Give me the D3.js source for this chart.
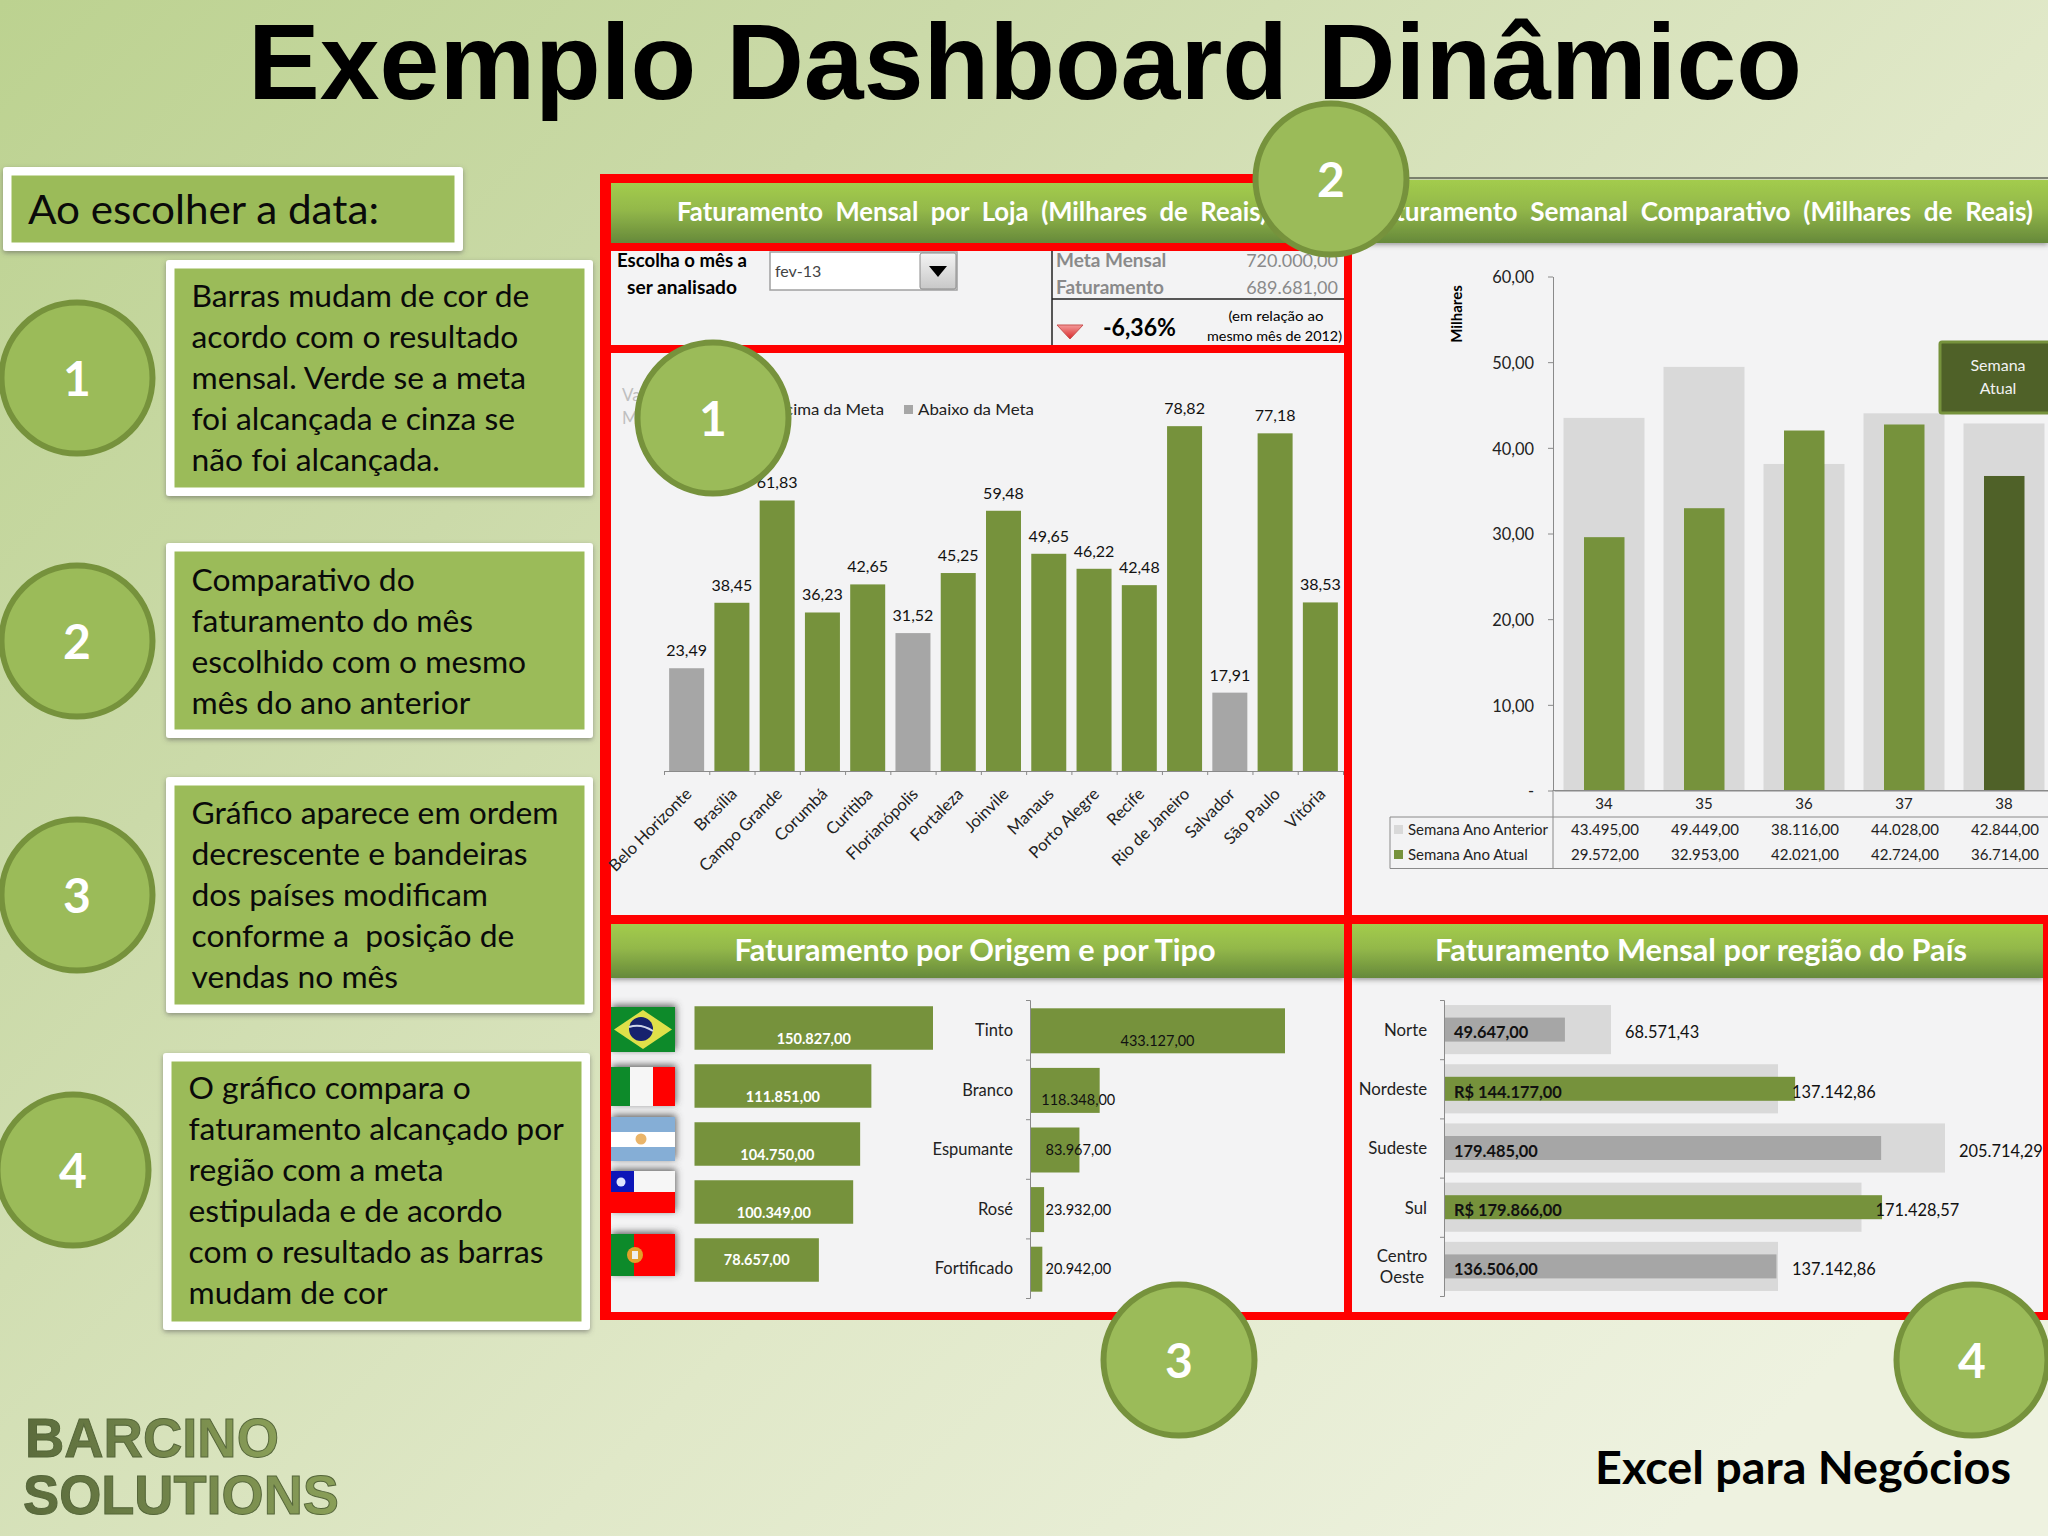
<!DOCTYPE html>
<html>
<head>
<meta charset="utf-8">
<style>
  html, body { margin: 0; padding: 0; background: #d8e2bd; }
  svg { display: block; }
  text { font-family: Lato, "Open Sans", sans-serif; }
  .axis path, .axis line { stroke: #8a8a8a; }
  .axis text { font-family: Lato, sans-serif; fill: #222; }
</style>
<script src="https://cdn.jsdelivr.net/npm/d3@7"></script>
</head>
<body>
<svg id="page" width="2048" height="1536"></svg>
<script>
// monthly sales per store
const stores = ["Belo Horizonte", "Brasília", "Campo Grande", "Corumbá", "Curitiba", "Florianópolis", "Fortaleza", "Joinvile", "Manaus", "Porto Alegre", "Recife", "Rio de Janeiro", "Salvador", "São Paulo", "Vitória"];
const storeValues = [23.49, 38.45, 61.83, 36.23, 42.65, 31.52, 45.25, 59.48, 49.65, 46.22, 42.48, 78.82, 17.91, 77.18, 38.53];
const storesBelowGoal = ["Belo Horizonte", "Florianópolis", "Salvador"];

// weekly comparison
const weeks = ["34", "35", "36", "37", "38"];
const weekPrevious = [43495, 49449, 38116, 44028, 42844];
const weekCurrent = [29572, 32953, 42021, 42724, 36714];
const weekTicks = [0, 10000, 20000, 30000, 40000, 50000, 60000];

// origin and type
const origins = ["Brasil", "Itália", "Argentina", "Chile", "Portugal"];
const originValues = [150827, 111851, 104750, 100349, 78657];
const wineTypes = ["Tinto", "Branco", "Espumante", "Rosé", "Fortificado"];
const wineValues = [433127, 118348, 83967, 23932, 20942];

// region vs goal
const regions = ["Norte", "Nordeste", "Sudeste", "Sul", "Centro Oeste"];
const regionGoals = [68571.43, 137142.86, 205714.29, 171428.57, 137142.86];
const regionValues = [49647, 144177, 179485, 179866, 136506];

// side notes
const noteHead = "Ao escolher a data:";
const notes = [
  ["Barras mudam de cor de", "acordo com o resultado", "mensal. Verde se a meta", "foi alcançada e cinza se", "não foi alcançada."],
  ["Comparativo do", "faturamento do mês", "escolhido com o mesmo", "mês do ano anterior"],
  ["Gráfico aparece em ordem", "decrescente e bandeiras", "dos países modificam", "conforme a  posição de", "vendas no mês"],
  ["O gráfico compara o", "faturamento alcançado por", "região com a meta", "estipulada e de acordo", "com o resultado as barras", "mudam de cor"]
];

const GREEN = "#76923c", GREY = "#a6a6a6", LIGHT = "#d9d9d9", DARK = "#4f6128", LEAF = "#9bbb59", RED = "#ff0000";

const ptBR = d3.formatLocale({ decimal: ",", thousands: ".", grouping: [3], currency: ["R$ ", ""] });
const f2 = ptBR.format(",.2f");

const svg = d3.select("#page");
const defs = svg.append("defs");

const bgGrad = defs.append("linearGradient").attr("id", "bg").attr("x1", 0).attr("y1", 0).attr("x2", 1).attr("y2", 0.75);
bgGrad.append("stop").attr("offset", 0).attr("stop-color", "#bcd290");
bgGrad.append("stop").attr("offset", 0.3).attr("stop-color", "#cbdaa9");
bgGrad.append("stop").attr("offset", 0.65).attr("stop-color", "#e0e8c8");
bgGrad.append("stop").attr("offset", 1).attr("stop-color", "#eef2e0");

const headGrad = defs.append("linearGradient").attr("id", "head").attr("x1", 0).attr("y1", 0).attr("x2", 0).attr("y2", 1);
headGrad.append("stop").attr("offset", 0).attr("stop-color", "#a3cc4d");
headGrad.append("stop").attr("offset", 0.45).attr("stop-color", "#93b84a");
headGrad.append("stop").attr("offset", 1).attr("stop-color", "#66893a");

const logoGrad = defs.append("linearGradient").attr("id", "logo").attr("x1", 0).attr("y1", 0).attr("x2", 1).attr("y2", 0);
logoGrad.append("stop").attr("offset", 0).attr("stop-color", "#5b6b3c");
logoGrad.append("stop").attr("offset", 1).attr("stop-color", "#8a9f58");

const btnGrad = defs.append("linearGradient").attr("id", "btn").attr("x1", 0).attr("y1", 0).attr("x2", 0).attr("y2", 1);
btnGrad.append("stop").attr("offset", 0).attr("stop-color", "#f4f4f4");
btnGrad.append("stop").attr("offset", 1).attr("stop-color", "#c8c8c8");

const triGrad = defs.append("linearGradient").attr("id", "tri").attr("x1", 0).attr("y1", 0).attr("x2", 0).attr("y2", 1);
triGrad.append("stop").attr("offset", 0).attr("stop-color", "#f49a9a");
triGrad.append("stop").attr("offset", 1).attr("stop-color", "#d8282a");

const shadow = defs.append("filter").attr("id", "shadow").attr("x", "-10%").attr("y", "-10%").attr("width", "120%").attr("height", "125%");
shadow.append("feDropShadow").attr("dx", 0).attr("dy", 2).attr("stdDeviation", 2.5).attr("flood-color", "#555").attr("flood-opacity", 0.55);

const halo = defs.append("filter").attr("id", "halo").attr("x", "-20%").attr("y", "-40%").attr("width", "140%").attr("height", "180%");
halo.append("feDropShadow").attr("dx", 1).attr("dy", -2).attr("stdDeviation", 3.5).attr("flood-color", "#444").attr("flood-opacity", 0.85);

const soft = defs.append("filter").attr("id", "soft");
soft.append("feGaussianBlur").attr("stdDeviation", 0.7);

defs.append("clipPath").attr("id", "flagClip").append("rect").attr("x", 611).attr("y", 980).attr("width", 120).attr("height", 330);

// plain text helper
function put(g, txt, x, y, size, o = {}) {
  const t = g.append("text").attr("x", x).attr("y", y).attr("font-size", size)
    .attr("text-anchor", o.anchor || "start")
    .attr("font-weight", o.weight || 400)
    .attr("fill", o.fill || "#000")
    .text(txt);
  if (o.len) t.attr("textLength", o.len).attr("lengthAdjust", "spacingAndGlyphs");
  if (o.style) t.attr("style", o.style);
  return t;
}

// background and page texts
svg.append("rect").attr("width", 2048).attr("height", 1536).attr("fill", "url(#bg)");
put(svg, "Exemplo Dashboard Dinâmico", 248, 99, 108, { weight: 700, len: 1554, style: "font-family:'Liberation Sans',Arial,sans-serif" });
put(svg, "Excel para Negócios", 1595, 1484, 46, { weight: 700, len: 416 });
const logo = svg.append("g").attr("filter", "url(#soft)");
logo.append("text").attr("x", 25).attr("y", 1457).attr("font-size", 55).attr("font-weight", 700).attr("fill", "url(#logo)")
  .attr("stroke", "#55663a").attr("stroke-width", 1).attr("textLength", 254).attr("lengthAdjust", "spacingAndGlyphs")
  .style("font-family", "'Liberation Sans', Arial, sans-serif").text("BARCINO");
logo.append("text").attr("x", 23).attr("y", 1514).attr("font-size", 55).attr("font-weight", 700).attr("fill", "url(#logo)")
  .attr("stroke", "#55663a").attr("stroke-width", 1).attr("textLength", 316).attr("lengthAdjust", "spacingAndGlyphs")
  .style("font-family", "'Liberation Sans', Arial, sans-serif").text("SOLUTIONS");

// left column boxes
function noteBox(x, y, w, h) {
  svg.append("rect").attr("x", x).attr("y", y).attr("width", w).attr("height", h).attr("rx", 3).attr("fill", "#fff").attr("filter", "url(#shadow)");
  svg.append("rect").attr("x", x + 8.5).attr("y", y + 8.5).attr("width", w - 17).attr("height", h - 17).attr("fill", LEAF);
}
noteBox(3, 167, 460, 84);
put(svg, noteHead, 28, 224, 41, { fill: "#0a0a0a", len: 351 });

const noteBoxes = [[166, 260, 427, 236], [166, 543, 427, 195], [166, 777, 427, 236], [163, 1053, 427, 277]];
const noteFirstLine = [307, 591, 824, 1099];
noteBoxes.forEach((b, i) => {
  noteBox(b[0], b[1], b[2], b[3]);
  notes[i].forEach((line, j) => {
    put(svg, line, b[0] + 25.5, noteFirstLine[i] + j * 41, 31.8, { fill: "#0a0a0a", style: "white-space:pre" });
  });
});

// panel backgrounds
svg.append("line").attr("x1", 1352).attr("x2", 2048).attr("y1", 178).attr("y2", 178).attr("stroke", "#222").attr("stroke-width", 1);
const panels = [[611, 251, 733, 94], [611, 353, 733, 562], [1352, 243, 696, 672], [611, 978, 733, 334], [1352, 978, 691, 334]];
svg.selectAll("rect.panel").data(panels).enter().append("rect").attr("class", "panel")
  .attr("x", d => d[0]).attr("y", d => d[1]).attr("width", d => d[2]).attr("height", d => d[3]).attr("fill", "#f3f3f4");

// header bands
const headers = [[611, 183, 733, 60], [1352, 180, 696, 63], [611, 924, 733, 54], [1352, 924, 691, 54]];
svg.selectAll("rect.head").data(headers).enter().append("rect").attr("class", "head")
  .attr("x", d => d[0]).attr("y", d => d[1]).attr("width", d => d[2]).attr("height", d => d[3])
  .attr("fill", "url(#head)").attr("filter", "url(#shadow)");

// red frame
const frame = [
  [600, 174, 752, 9], [600, 243, 752, 8], [600, 345, 752, 8], [600, 915, 1448, 9], [600, 1312, 1448, 8],
  [600, 174, 11, 1146], [1344, 174, 8, 1146], [2043, 915, 5, 405]
];
svg.selectAll("rect.frame").data(frame).enter().append("rect").attr("class", "frame")
  .attr("x", d => d[0]).attr("y", d => d[1]).attr("width", d => d[2]).attr("height", d => d[3]).attr("fill", RED);

put(svg, "Faturamento  Mensal  por  Loja  (Milhares  de  Reais)", 677, 221, 26, { weight: 700, fill: "#fff", len: 590, style: "white-space:pre" });
put(svg, "Faturamento  Semanal  Comparativo  (Milhares  de  Reais)", 2033, 221, 26, { weight: 700, fill: "#fff", anchor: "end", len: 664, style: "white-space:pre" });
put(svg, "Faturamento por Origem e por Tipo", 975, 961, 30, { weight: 700, fill: "#fff", anchor: "middle", len: 481 });
put(svg, "Faturamento Mensal por região do País", 1701, 961, 30, { weight: 700, fill: "#fff", anchor: "middle", len: 532 });

// month selector row
put(svg, "Escolha o mês a", 682, 267, 18, { weight: 700, anchor: "middle", len: 130 });
put(svg, "ser analisado", 682, 294, 18, { weight: 700, anchor: "middle", len: 110 });
svg.append("rect").attr("x", 770).attr("y", 252).attr("width", 187).attr("height", 38).attr("fill", "#fff").attr("stroke", "#a0a0a0").attr("stroke-width", 1.5);
svg.append("rect").attr("x", 920).attr("y", 253).attr("width", 36).attr("height", 36).attr("rx", 2).attr("fill", "url(#btn)").attr("stroke", "#8a8a8a");
svg.append("path").attr("d", "M929,266h18l-9,11z").attr("fill", "#000");
put(svg, "fev-13", 775, 277, 16, { fill: "#444" });

svg.append("line").attr("x1", 1052).attr("x2", 1052).attr("y1", 251).attr("y2", 345).attr("stroke", "#222").attr("stroke-width", 1.5);
svg.append("line").attr("x1", 1052).attr("x2", 1344).attr("y1", 299).attr("y2", 299).attr("stroke", "#222").attr("stroke-width", 1.5);
put(svg, "Meta Mensal", 1056, 267, 19, { weight: 700, fill: "#8a8a8a" });
put(svg, "720.000,00", 1338, 267, 18, { anchor: "end", fill: "#8a8a8a" });
put(svg, "Faturamento", 1056, 294, 19, { weight: 700, fill: "#8a8a8a" });
put(svg, "689.681,00", 1338, 294, 18, { anchor: "end", fill: "#8a8a8a" });
svg.append("path").attr("d", "M1057,325h26l-13,14z").attr("fill", "url(#tri)").attr("stroke", "#c9504f");
put(svg, "-6,36%", 1103, 336, 24, { weight: 700, len: 73 });
put(svg, "(em relação ao", 1276, 321, 14, { anchor: "middle", len: 95 });
put(svg, "mesmo mês de 2012)", 1342, 341, 14, { anchor: "end", len: 135 });

// chart 1: sales per store
const xStore = d3.scaleBand().domain(stores).range([664, 1343]);
const yStore = d3.scaleLinear().domain([0, 80]).range([771, 421]);
const barW = 35;
const g1 = svg.append("g");

put(g1, "Valor", 622, 401, 17, { fill: "#bfbfbf" });
put(g1, "Meta", 622, 424, 17, { fill: "#bfbfbf" });
g1.append("rect").attr("x", 760).attr("y", 405).attr("width", 9).attr("height", 9).attr("fill", GREEN);
put(g1, "Acima da Meta", 774, 415, 16, { fill: "#222", len: 110 });
g1.append("rect").attr("x", 904).attr("y", 405).attr("width", 9).attr("height", 9).attr("fill", GREY);
put(g1, "Abaixo da Meta", 918, 415, 16, { fill: "#222", len: 116 });

g1.selectAll("rect.store").data(stores).enter().append("rect").attr("class", "store")
  .attr("x", d => xStore(d) + (xStore.bandwidth() - barW) / 2)
  .attr("y", (d, i) => yStore(storeValues[i]))
  .attr("width", barW)
  .attr("height", (d, i) => yStore(0) - yStore(storeValues[i]))
  .attr("fill", d => (storesBelowGoal.includes(d) ? GREY : GREEN));

g1.selectAll("text.storeVal").data(stores).enter().append("text").attr("class", "storeVal")
  .attr("x", d => xStore(d) + xStore.bandwidth() / 2)
  .attr("y", (d, i) => yStore(storeValues[i]) - 12)
  .attr("text-anchor", "middle").attr("font-size", 16).attr("fill", "#111")
  .text((d, i) => ptBR.format(".2f")(storeValues[i]));

const storeAxis = g1.append("g").attr("class", "axis").attr("transform", "translate(0,771)")
  .call(d3.axisBottom(xStore).tickSize(0));
storeAxis.select(".domain").remove();
storeAxis.selectAll("text")
  .attr("x", 0).attr("y", 0).attr("dy", "0.35em")
  .attr("transform", "translate(2,20) rotate(-45)")
  .attr("text-anchor", "end").attr("font-size", 16.6);
g1.append("g").attr("class", "axis").attr("transform", "translate(0,771)")
  .call(d3.axisBottom(d3.scaleLinear().domain([0, stores.length]).range([664, 1343])).ticks(stores.length).tickSize(4).tickSizeOuter(4).tickFormat(""));

// chart 2: weekly comparison
const xWeek = d3.scaleBand().domain(weeks).range([1554, 2054]);
const yWeek = d3.scaleLinear().domain([0, 60000]).range([790.5, 276.5]);
const g2 = svg.append("g");

g2.selectAll("rect.prev").data(weeks).enter().append("rect").attr("class", "prev")
  .attr("x", d => xWeek(d) + 9.5).attr("width", 81)
  .attr("y", (d, i) => yWeek(weekPrevious[i]))
  .attr("height", (d, i) => yWeek(0) - yWeek(weekPrevious[i]))
  .attr("fill", LIGHT);
g2.selectAll("rect.curr").data(weeks).enter().append("rect").attr("class", "curr")
  .attr("x", d => xWeek(d) + 30).attr("width", 40.5)
  .attr("y", (d, i) => yWeek(weekCurrent[i]))
  .attr("height", (d, i) => yWeek(0) - yWeek(weekCurrent[i]))
  .attr("fill", (d, i) => (i === weeks.length - 1 ? DARK : GREEN));

const yWeekAxis = g2.append("g").attr("class", "axis").attr("transform", "translate(1553,0)")
  .call(d3.axisLeft(yWeek).tickValues(weekTicks).tickSize(5).tickSizeOuter(0).tickFormat(d => (d ? f2(d / 1000) : "-")));
yWeekAxis.selectAll("text").attr("font-size", 16.4).attr("x", -19).attr("y", 1);
const xWeekAxis = g2.append("g").attr("class", "axis").attr("transform", "translate(0,790.5)")
  .call(d3.axisBottom(xWeek).tickSize(0).tickPadding(8));
xWeekAxis.selectAll("text").attr("font-size", 15);
g2.append("line").attr("x1", 1553).attr("x2", 2048).attr("y1", 790.5).attr("y2", 790.5).attr("stroke", "#8a8a8a");

// data table below the axis
g2.append("line").attr("x1", 1553).attr("x2", 1553).attr("y1", 790).attr("y2", 868).attr("stroke", "#8a8a8a");
g2.append("line").attr("x1", 1390).attr("x2", 2048).attr("y1", 817).attr("y2", 817).attr("stroke", "#8a8a8a");
g2.append("line").attr("x1", 1390).attr("x2", 2048).attr("y1", 868.5).attr("y2", 868.5).attr("stroke", "#8a8a8a");
g2.append("line").attr("x1", 1390).attr("x2", 1390).attr("y1", 817).attr("y2", 868.5).attr("stroke", "#8a8a8a");
[["Semana Ano Anterior", weekPrevious, LIGHT, 835], ["Semana Ano Atual", weekCurrent, GREEN, 860]].forEach(r => {
  g2.append("rect").attr("x", 1394).attr("y", r[3] - 10).attr("width", 9).attr("height", 9).attr("fill", r[2]);
  put(g2, r[0], 1408, r[3], 15, { fill: "#222" });
  g2.selectAll(null).data(r[1]).enter().append("text")
    .attr("x", (d, i) => xWeek(weeks[i]) + 51).attr("y", r[3]).attr("text-anchor", "middle")
    .attr("font-size", 15).attr("fill", "#222").text(d => f2(d));
});

put(g2, "Milhares", 0, 0, 15, { weight: 700, anchor: "middle" }).attr("transform", "translate(1462,314) rotate(-90)");
g2.append("rect").attr("x", 1940).attr("y", 342).attr("width", 120).attr("height", 71).attr("rx", 2).attr("fill", DARK).attr("stroke", GREEN).attr("stroke-width", 3);
put(g2, "Semana", 1998, 371, 16, { fill: "#f2f2f2", anchor: "middle" });
put(g2, "Atual", 1998, 394, 16, { fill: "#f2f2f2", anchor: "middle" });

// chart 3a: flags, then sales by origin
const yOrigin = d3.scaleBand().domain(origins).range([999, 1289]).paddingInner(0.25).paddingOuter(0.125);
const xOrigin = d3.scaleLinear().domain([0, 150827]).range([694.5, 933]);
const g3 = svg.append("g");

const flagTop = [1007, 1067, 1117, 1171, 1234];
const flagParts = {
  "Brasil": f => {
    f.append("rect").attr("width", 64).attr("height", 45).attr("fill", "#0a8a2c");
    f.append("path").attr("d", "M3,22.5L32,3L61,22.5L32,42z").attr("fill", "#dfe04a");
    f.append("circle").attr("cx", 30).attr("cy", 22).attr("r", 12).attr("fill", "#14206e");
    f.append("path").attr("d", "M18,20Q30,16 42,24").attr("fill", "none").attr("stroke", "#cfd6ea").attr("stroke-width", 2);
  },
  "Itália": f => {
    f.append("rect").attr("width", 19).attr("height", 39).attr("fill", "#0a8a2c");
    f.append("rect").attr("x", 19).attr("width", 23).attr("height", 39).attr("fill", "#f6f6f6");
    f.append("rect").attr("x", 42).attr("width", 22).attr("height", 39).attr("fill", "#f00");
  },
  "Argentina": f => {
    f.append("rect").attr("width", 64).attr("height", 44).attr("fill", "#85aed6");
    f.append("rect").attr("y", 15).attr("width", 64).attr("height", 15).attr("fill", "#fff");
    f.append("circle").attr("cx", 30).attr("cy", 22).attr("r", 5.5).attr("fill", "#eab56a");
  },
  "Chile": f => {
    f.append("rect").attr("width", 64).attr("height", 42).attr("fill", "#f00");
    f.append("rect").attr("width", 64).attr("height", 21).attr("fill", "#f6f6f6");
    f.append("rect").attr("width", 23).attr("height", 21).attr("fill", "#0b16b8");
    f.append("circle").attr("cx", 10).attr("cy", 11).attr("r", 4.5).attr("fill", "#dfe4ff");
  },
  "Portugal": f => {
    f.append("rect").attr("width", 64).attr("height", 42).attr("fill", "#f00");
    f.append("rect").attr("width", 23).attr("height", 42).attr("fill", "#0a8a2c");
    f.append("circle").attr("cx", 24).attr("cy", 21).attr("r", 8).attr("fill", "#e2a02a");
    f.append("rect").attr("x", 21).attr("y", 17).attr("width", 6).attr("height", 8).attr("fill", "#eee");
  }
};
const flagLayer = g3.append("g").attr("clip-path", "url(#flagClip)");
origins.forEach((c, i) => {
  const f = flagLayer.append("g").attr("transform", `translate(611,${flagTop[i]})`).attr("filter", "url(#halo)");
  flagParts[c](f);
});

g3.selectAll("rect.origin").data(origins).enter().append("rect").attr("class", "origin")
  .attr("x", xOrigin(0)).attr("y", d => yOrigin(d))
  .attr("width", (d, i) => xOrigin(originValues[i]) - xOrigin(0))
  .attr("height", yOrigin.bandwidth())
  .attr("fill", GREEN);
g3.selectAll("text.originVal").data(originValues).enter().append("text").attr("class", "originVal")
  .attr("x", d => (xOrigin(0) + xOrigin(d)) / 2)
  .attr("y", (d, i) => yOrigin(origins[i]) + yOrigin.bandwidth() / 2 + (d > 100000 ? 11 : 0))
  .attr("dy", "0.35em").attr("text-anchor", "middle").attr("font-size", 14.5).attr("font-weight", 700).attr("fill", "#fff")
  .text(d => f2(d));

// chart 3b: sales by type
const yWine = d3.scaleBand().domain(wineTypes).range([1001, 1299]).paddingInner(0.245).paddingOuter(0.1225);
const xWine = d3.scaleLinear().domain([0, 433127]).range([1030, 1285]);

g3.selectAll("rect.wine").data(wineTypes).enter().append("rect").attr("class", "wine")
  .attr("x", xWine(0)).attr("y", d => yWine(d))
  .attr("width", (d, i) => xWine(wineValues[i]) - xWine(0))
  .attr("height", yWine.bandwidth())
  .attr("fill", GREEN);
g3.selectAll("text.wineVal").data(wineValues).enter().append("text").attr("class", "wineVal")
  .attr("x", d => Math.max((xWine(0) + xWine(d)) / 2, xWine(82000)))
  .attr("y", (d, i) => yWine(wineTypes[i]) + yWine.bandwidth() / 2 + (d > 100000 ? 10 : 0))
  .attr("dy", "0.35em").attr("text-anchor", "middle").attr("font-size", 14.5).attr("fill", "#111")
  .text(d => f2(d));

const wineAxis = g3.append("g").attr("class", "axis").attr("transform", "translate(1030,0)")
  .call(d3.axisLeft(yWine).tickSize(0).tickPadding(17));
wineAxis.select(".domain").remove();
wineAxis.selectAll("text").attr("font-size", 16.5);
g3.append("g").attr("class", "axis").attr("transform", "translate(1030,0)")
  .call(d3.axisLeft(d3.scaleLinear().domain([0, wineTypes.length]).range([1000, 1298])).ticks(wineTypes.length).tickSize(4).tickFormat(""));

// chart 4: region vs goal
const yRegion = d3.scaleBand().domain(regions).range([1000, 1296]).paddingInner(0.17).paddingOuter(0.085);
const xRegion = d3.scaleLinear().domain([0, 205714.29]).range([1444, 1945]);
const g4 = svg.append("g");

g4.selectAll("rect.goal").data(regions).enter().append("rect").attr("class", "goal")
  .attr("x", xRegion(0)).attr("y", d => yRegion(d))
  .attr("width", (d, i) => xRegion(regionGoals[i]) - xRegion(0))
  .attr("height", yRegion.bandwidth())
  .attr("fill", LIGHT);
g4.selectAll("rect.real").data(regions).enter().append("rect").attr("class", "real")
  .attr("x", xRegion(0)).attr("y", d => yRegion(d) + yRegion.bandwidth() / 2 - 12)
  .attr("width", (d, i) => xRegion(regionValues[i]) - xRegion(0))
  .attr("height", 24)
  .attr("fill", (d, i) => (regionValues[i] > regionGoals[i] ? GREEN : GREY));
g4.selectAll("text.real").data(regions).enter().append("text").attr("class", "real")
  .attr("x", 1454).attr("y", d => yRegion(d) + yRegion.bandwidth() / 2 + 3)
  .attr("dy", "0.35em").attr("font-size", 16.4).attr("font-weight", 700).attr("fill", "#111")
  .text((d, i) => (regionValues[i] > regionGoals[i] ? "R$ " : "") + f2(regionValues[i]));
g4.selectAll("text.goal").data(regions).enter().append("text").attr("class", "goal")
  .attr("x", (d, i) => xRegion(regionGoals[i]) + 14).attr("y", d => yRegion(d) + yRegion.bandwidth() / 2 + 3)
  .attr("dy", "0.35em").attr("font-size", 16.4).attr("fill", "#111")
  .text((d, i) => f2(regionGoals[i]));

const regionAxis = g4.append("g").attr("class", "axis").attr("transform", "translate(1444,1)")
  .call(d3.axisLeft(yRegion).tickSize(0).tickPadding(17));
regionAxis.select(".domain").remove();
regionAxis.selectAll("text").attr("font-size", 16.8);
regionAxis.selectAll(".tick").filter(d => d === "Centro Oeste").select("text").each(function () {
  const t = d3.select(this).text("");
  t.append("tspan").attr("x", -42).attr("dy", "-0.3em").attr("text-anchor", "middle").text("Centro");
  t.append("tspan").attr("x", -42).attr("dy", "1.25em").attr("text-anchor", "middle").text("Oeste");
});
g4.append("g").attr("class", "axis").attr("transform", "translate(1444,0)")
  .call(d3.axisLeft(d3.scaleLinear().domain([0, regions.length]).range([1000, 1296])).ticks(regions.length).tickSize(4).tickFormat(""));

// numbered circles sit above everything
const circles = [
  { n: "1", x: 77, y: 378 }, { n: "2", x: 77, y: 641 }, { n: "3", x: 77, y: 895 }, { n: "4", x: 73, y: 1170 },
  { n: "1", x: 713, y: 418 }, { n: "2", x: 1331, y: 179 }, { n: "3", x: 1179, y: 1360 }, { n: "4", x: 1972, y: 1360 }
];
const cg = svg.selectAll("g.badge").data(circles).enter().append("g").attr("class", "badge")
  .attr("transform", d => `translate(${d.x},${d.y})`);
cg.append("circle").attr("r", 75.5).attr("fill", LEAF).attr("stroke", GREEN).attr("stroke-width", 6);
cg.append("text").attr("text-anchor", "middle").attr("y", 18).attr("font-size", 48).attr("font-weight", 700).attr("fill", "#fff").text(d => d.n);
</script>
</body>
</html>
